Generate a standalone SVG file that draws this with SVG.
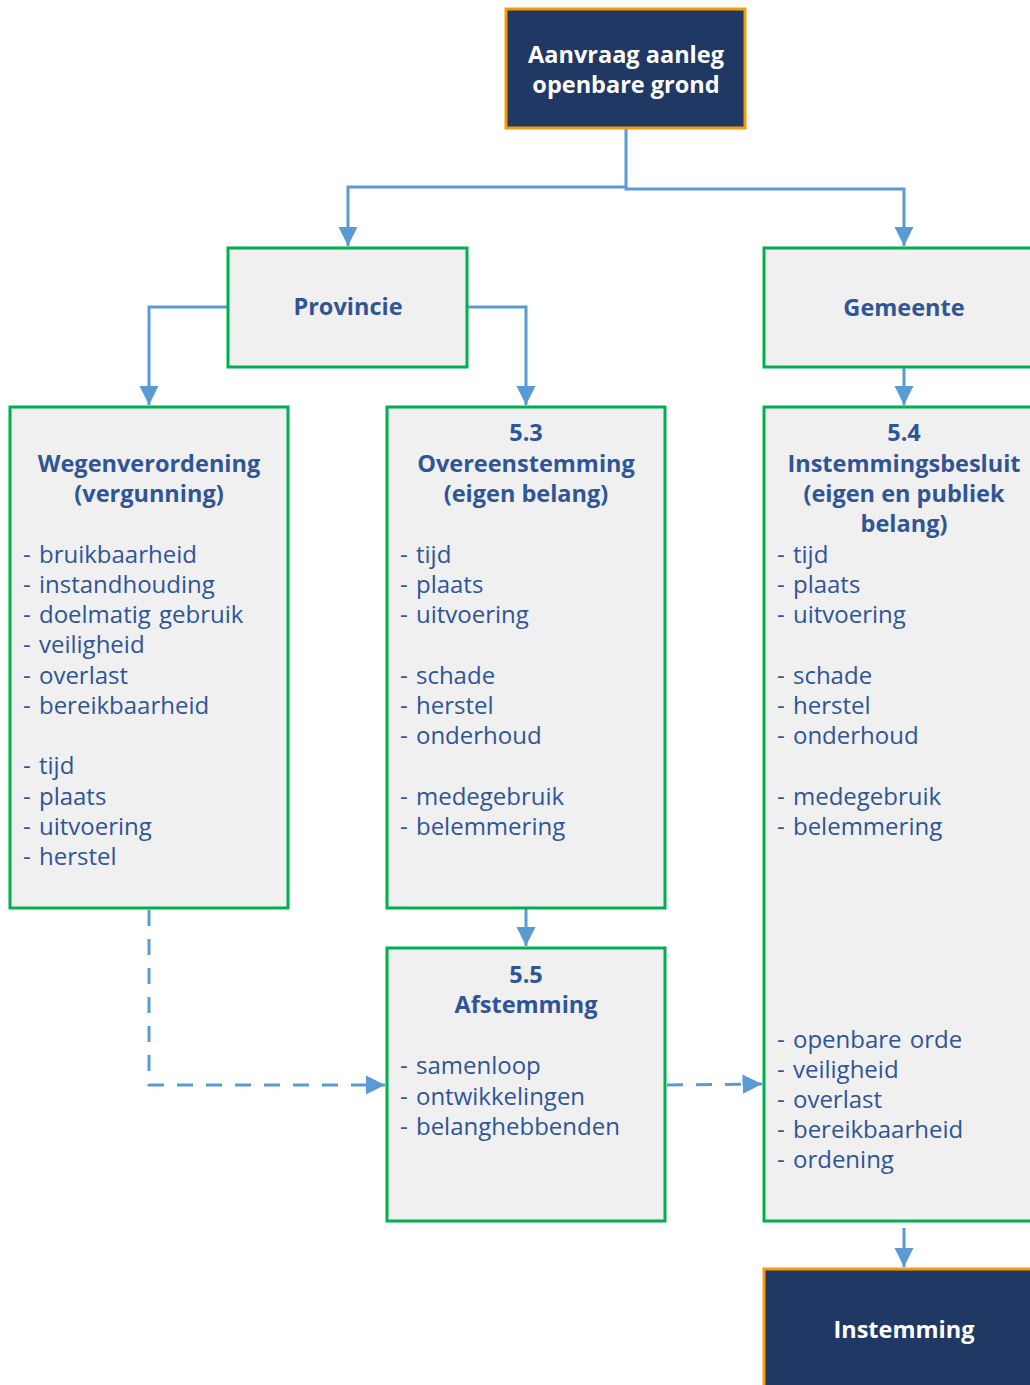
<svg xmlns="http://www.w3.org/2000/svg" width="1030" height="1385" viewBox="0 0 1030 1385">
<style>
.dark{fill:#203864;stroke:#F7990C;stroke-width:3}
.box{fill:#F0F0F0;stroke:#00B050;stroke-width:3}
text{font-family:"Open Sans","Noto Sans","DejaVu Sans",sans-serif}
.wt{fill:#FFFFFF;font-weight:bold;font-size:23.5px;text-anchor:middle}
.tt{fill:#2F5597;font-weight:bold;font-size:23.5px;text-anchor:middle}
.bt{fill:#2F5597;font-size:24px;word-spacing:2px}
.ln{fill:none;stroke:#5B9BD5;stroke-width:3}
.dash{stroke-dasharray:16,13}
</style>
<defs>
<marker id="ah" viewBox="0 0 10 10" refX="10" refY="5" markerWidth="6.5" markerHeight="6.5" markerUnits="strokeWidth" orient="auto">
<path d="M0,0 L10,5 L0,10 z" fill="#5B9BD5"/>
</marker>
</defs>
<g id="connectors">
<path class="ln" d="M626,128 V187 H348 V246" marker-end="url(#ah)"/>
<path class="ln" d="M626,187 V189 H904 V246" marker-end="url(#ah)"/>
<path class="ln" d="M228,307 H149 V405" marker-end="url(#ah)"/>
<path class="ln" d="M467,307 H526 V405" marker-end="url(#ah)"/>
<path class="ln" d="M904,367 V405" marker-end="url(#ah)"/>
<path class="ln" d="M526,908 V946" marker-end="url(#ah)"/>
<path class="ln dash" d="M149,910 V1085 H385" marker-end="url(#ah)"/>
<path class="ln dash" d="M667,1085 L762,1084" marker-end="url(#ah)"/>
<path class="ln" d="M904,1228 V1267" marker-end="url(#ah)"/>
</g>
<g id="aanvraag">
<rect class="dark" x="506" y="9" width="239" height="119"/>
<text class="wt" x="626" y="63">Aanvraag aanleg</text>
<text class="wt" x="626" y="93">openbare grond</text>
</g>
<g id="provincie">
<rect class="box" x="228" y="248" width="239" height="119"/>
<text class="tt" x="348" y="315">Provincie</text>
</g>
<g id="gemeente">
<rect class="box" x="764" y="248" width="280" height="119"/>
<text class="tt" x="904" y="316">Gemeente</text>
</g>
<g id="wegenverordening">
<rect class="box" x="10" y="407" width="278" height="501"/>
<text class="tt" x="149" y="472">Wegenverordening</text>
<text class="tt" x="149" y="502">(vergunning)</text>
<text class="bt" x="23" y="563">- bruikbaarheid</text>
<text class="bt" x="23" y="593">- instandhouding</text>
<text class="bt" x="23" y="623">- doelmatig gebruik</text>
<text class="bt" x="23" y="653">- veiligheid</text>
<text class="bt" x="23" y="684">- overlast</text>
<text class="bt" x="23" y="714">- bereikbaarheid</text>
<text class="bt" x="23" y="774">- tijd</text>
<text class="bt" x="23" y="805">- plaats</text>
<text class="bt" x="23" y="835">- uitvoering</text>
<text class="bt" x="23" y="865">- herstel</text>
</g>
<g id="overeenstemming">
<rect class="box" x="387" y="407" width="278" height="501"/>
<text class="tt" x="526" y="441">5.3</text>
<text class="tt" x="526" y="472">Overeenstemming</text>
<text class="tt" x="526" y="502">(eigen belang)</text>
<text class="bt" x="400" y="563">- tijd</text>
<text class="bt" x="400" y="593">- plaats</text>
<text class="bt" x="400" y="623">- uitvoering</text>
<text class="bt" x="400" y="684">- schade</text>
<text class="bt" x="400" y="714">- herstel</text>
<text class="bt" x="400" y="744">- onderhoud</text>
<text class="bt" x="400" y="805">- medegebruik</text>
<text class="bt" x="400" y="835">- belemmering</text>
</g>
<g id="instemmingsbesluit">
<rect class="box" x="764" y="407" width="280" height="814"/>
<text class="tt" x="904" y="441">5.4</text>
<text class="tt" x="904" y="472">Instemmingsbesluit</text>
<text class="tt" x="904" y="502">(eigen en publiek</text>
<text class="tt" x="904" y="532">belang)</text>
<text class="bt" x="777" y="563">- tijd</text>
<text class="bt" x="777" y="593">- plaats</text>
<text class="bt" x="777" y="623">- uitvoering</text>
<text class="bt" x="777" y="684">- schade</text>
<text class="bt" x="777" y="714">- herstel</text>
<text class="bt" x="777" y="744">- onderhoud</text>
<text class="bt" x="777" y="805">- medegebruik</text>
<text class="bt" x="777" y="835">- belemmering</text>
<text class="bt" x="777" y="1048">- openbare orde</text>
<text class="bt" x="777" y="1078">- veiligheid</text>
<text class="bt" x="777" y="1108">- overlast</text>
<text class="bt" x="777" y="1138">- bereikbaarheid</text>
<text class="bt" x="777" y="1168">- ordening</text>
</g>
<g id="afstemming">
<rect class="box" x="387" y="948" width="278" height="273"/>
<text class="tt" x="526" y="983">5.5</text>
<text class="tt" x="526" y="1013">Afstemming</text>
<text class="bt" x="400" y="1074">- samenloop</text>
<text class="bt" x="400" y="1105">- ontwikkelingen</text>
<text class="bt" x="400" y="1135">- belanghebbenden</text>
</g>
<g id="instemming">
<rect class="dark" x="764" y="1269" width="280" height="130"/>
<text class="wt" x="904" y="1338">Instemming</text>
</g>
</svg>
